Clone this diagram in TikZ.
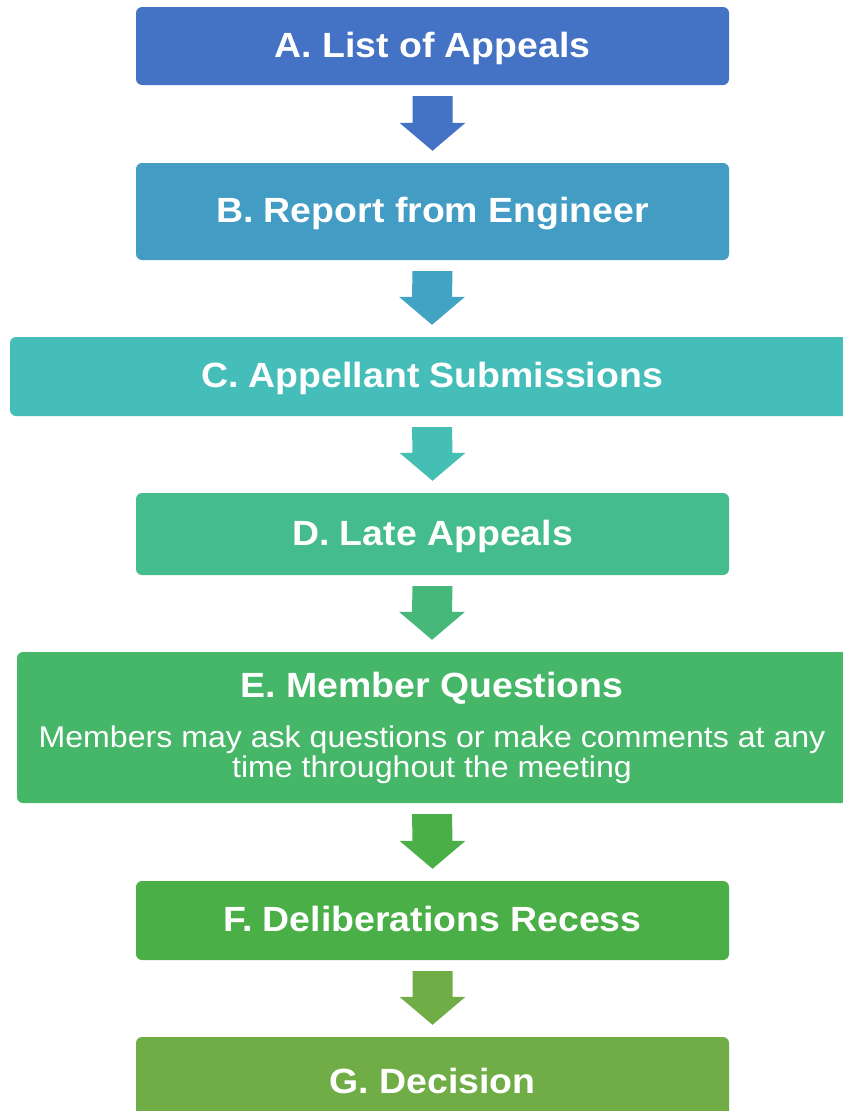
\documentclass[tikz,border=0pt]{standalone}
\usepackage{fontspec}
\setmainfont[FakeStretch=1.07]{Liberation Sans}
\usepackage{tikz}
\usetikzlibrary{positioning, calc}

\definecolor{stepA}{RGB}{68,114,196}
\definecolor{stepB}{RGB}{67,156,196}
\definecolor{stepC}{RGB}{69,190,185}
\definecolor{stepD}{RGB}{69,188,142}
\definecolor{stepE}{RGB}{70,182,104}
\definecolor{stepF}{RGB}{75,175,71}
\definecolor{stepG}{RGB}{112,173,71}
\definecolor{arrowB}{RGB}{67,163,196}
\definecolor{arrowC}{RGB}{69,190,180}
\definecolor{arrowD}{RGB}{70,184,122}

\newcommand{\bodyfont}{\fontsize{30}{30}\selectfont\mdseries}

\tikzset{
    stepbox/.style={rounded corners=6pt, text=white, align=center, inner sep=0pt,
        font=\fontsize{35}{42}\selectfont\bfseries},
    narrowbox/.style={stepbox, minimum width=593, minimum height=79, text height=30, text depth=8},
}

% block arrow from one box down to the next
\newcommand{\flowarrow}[3]{%
    \path (#1.south) ++(0,11) coordinate (s) (#2.north) ++(0,-12) coordinate (t);
    \fill[#3] ($(s)+(-20,0)$) -- ($(s)+(20,0)$) -- ($(t)+(20,-28)$) -- ($(t)+(33,-28)$)
        -- (t) -- ($(t)+(-33,-28)$) -- ($(t)+(-20,-28)$) -- cycle;
}

\begin{document}
\begin{tikzpicture}[x=1pt, y=-1pt]
    \useasboundingbox (0,0) rectangle (843,1111);

    % boxes
    \node[narrowbox, fill=stepA, minimum height=78] (listapp) at (432.5,46) {A. List of Appeals};
    \node[narrowbox, fill=stepB, minimum height=97] (report) at (432.5,211.5) {B. Report from Engineer};
    \node[stepbox, fill=stepC, minimum width=844, minimum height=79, text height=30, text depth=8] (submit) at (432,376.5) {C. Appellant Submissions};
    \node[narrowbox, fill=stepD, minimum height=82] (late) at (432.5,534) {D. Late Appeals};
    \node[stepbox, fill=stepE, minimum width=830, minimum height=151,
          font=\fontsize{35}{30}\selectfont\bfseries] (member) at (432,727.5)
        {E. Member Questions\\[20pt]
         \bodyfont Members may ask questions or make comments at any\\
         \bodyfont time throughout the meeting};
    \node[narrowbox, fill=stepF] (delib) at (432.5,920.5) {F. Deliberations Recess};
    \node[narrowbox, fill=stepG, minimum height=90] (decide) at (432.5,1082) {G. Decision};

    % arrows
    \flowarrow{listapp}{report}{stepA}
    \flowarrow{report}{submit}{arrowB}
    \flowarrow{submit}{late}{arrowC}
    \flowarrow{late}{member}{arrowD}
    \flowarrow{member}{delib}{stepF}
    \flowarrow{delib}{decide}{stepG}
\end{tikzpicture}
\end{document}
